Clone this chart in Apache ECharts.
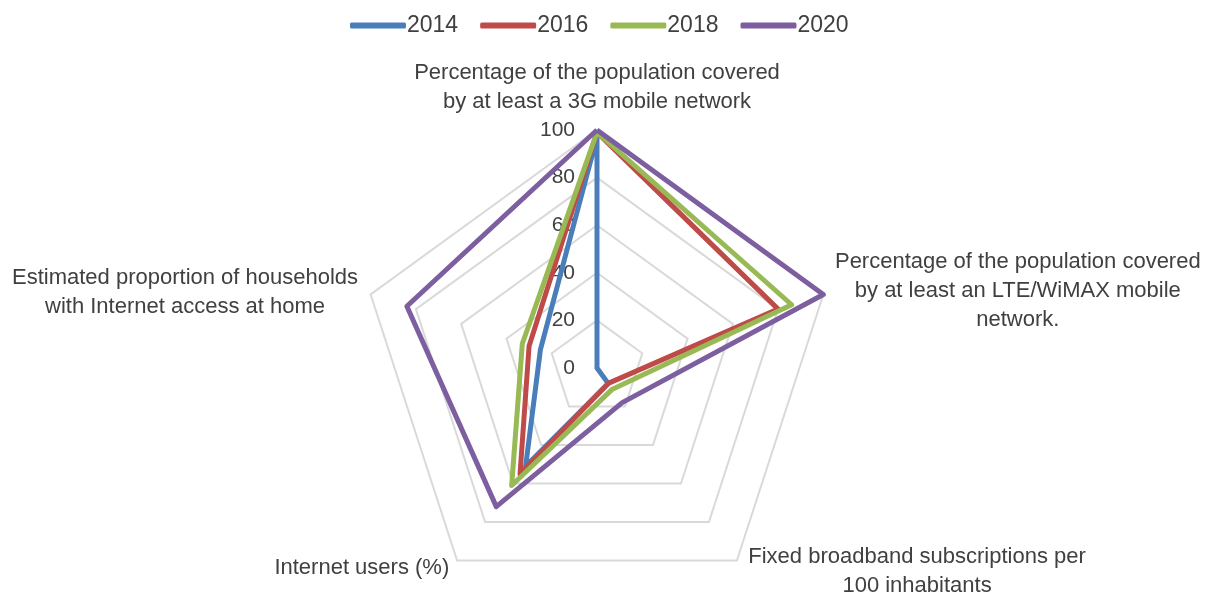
<!DOCTYPE html>
<html>
<head>
<meta charset="utf-8">
<script src="https://cdn.jsdelivr.net/npm/echarts@6/dist/echarts.min.js"></script>
<style>
  html, body { margin: 0; padding: 0; background: #fff; }
  #chart { width: 1205px; height: 592px; }
</style>
</head>
<body>
<div id="chart"></div>
<script>
// indicators, clockwise from the top as in the original
const indicators = [
  "Percentage of the population covered\nby at least a 3G mobile network",
  "Percentage of the population covered\nby at least an LTE/WiMAX mobile\nnetwork.",
  "Fixed broadband subscriptions per\n100 inhabitants",
  "Internet users (%)",
  "Estimated proportion of households\nwith Internet access at home"
];
const years = ["2014", "2016", "2018", "2020"];
const values2014 = [97, 0, 8, 51, 25];
const values2016 = [99, 80, 8, 55, 30];
const values2018 = [99, 86, 11, 61, 33];
const values2020 = [100, 100, 18, 72, 84];
const colors = ["#4a7ebb", "#be4b48", "#98b954", "#7d5fa0"];

// echarts lays indicators out counter-clockwise, so flip everything after the first one
function toRadarOrder(arr) {
  return [arr[0]].concat(arr.slice(1).reverse());
}

const nameGaps = [14, 11, 13, 9, 8];
const richWidths = [380, 368, 345, 180, 356];

const indicatorList = toRadarOrder(indicators.map(function (name, i) {
  return {
    name: name,
    min: 0,
    max: 100,
    nameGap: nameGaps[i],
    key: "n" + i,
    axisLabel: { show: i === 0 }
  };
}));

const rich = {};
richWidths.forEach(function (w, i) {
  rich["n" + i] = { width: w, align: "center", fontSize: 22, lineHeight: 29, color: "#404040", fontFamily: "Liberation Sans" };
});

const allValues = [values2014, values2016, values2018, values2020];

const chart = echarts.init(document.getElementById("chart"));
chart.setOption({
  animation: false,
  color: colors,
  legend: {
    top: 9,
    left: 345,
    data: years,
    icon: "roundRect",
    itemWidth: 56,
    itemHeight: 6,
    itemGap: 22,
    textStyle: { fontSize: 23, color: "#404040", fontFamily: "Liberation Sans", padding: [0, 0, 0, -4] }
  },
  radar: {
    center: [597, 368],
    radius: 238,
    startAngle: 90,
    splitNumber: 5,
    shape: "polygon",
    indicator: indicatorList,
    axisName: {
      formatter: function (name, ind) {
        return name.split("\n").map(function (l) {
          return "{" + ind.key + "|" + l + "}";
        }).join("\n");
      },
      rich: rich
    },
    axisLine: { show: false },
    axisTick: { show: false },
    splitArea: { show: false },
    splitLine: { lineStyle: { color: "#d9d9d9", width: 2 } },
    axisLabel: {
      show: true,
      margin: 22,
      fontSize: 21,
      color: "#404040",
      fontFamily: "Liberation Sans"
    }
  },
  series: [{
    type: "radar",
    symbol: "none",
    lineStyle: { width: 5 },
    data: allValues.map(function (v, i) {
      return {
        name: years[i],
        value: toRadarOrder(v),
        lineStyle: { width: 5, color: colors[i] },
        itemStyle: { color: colors[i] }
      };
    })
  }]
});
window.addEventListener("resize", function () {
  chart.resize();
});
</script>
</body>
</html>
